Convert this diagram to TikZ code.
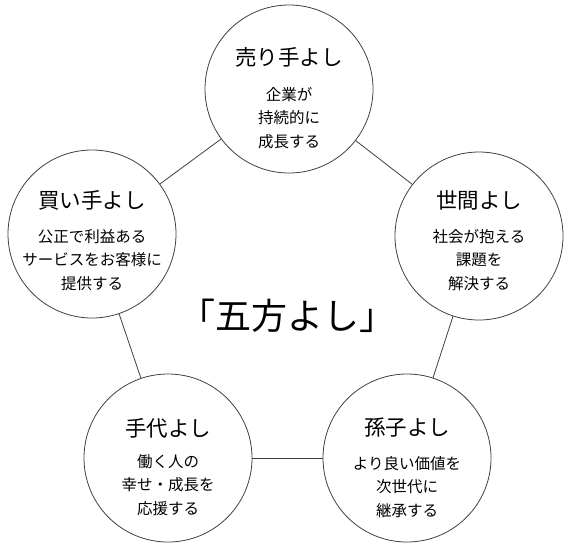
\documentclass[tikz,border=0pt]{standalone}
\usepackage{fontspec}
\setmainfont{Noto Sans CJK JP}

\begin{document}
\begin{tikzpicture}[x=1pt, y=-1pt, thin,
    party/.style = {circle, draw=black!75, line width=0.8pt, minimum size=168pt, inner sep=0pt},
    heading/.style = {font=\fontsize{21.5}{21.5}\selectfont},
    aim/.style = {align=center, font=\fontsize{15.5}{23.5}\selectfont}]
  \useasboundingbox (0, 0) rectangle (569, 552);

  % Circles.
  \node at (289, 89) [party, name=Seller] {};
  \node at (92, 234) [party, name=Buyer] {};
  \node at (479, 236) [party, name=Society] {};
  \node at (168, 458) [party, name=Staff] {};
  \node at (407, 458) [party, name=Future] {};

  % Links round the pentagon.
  \draw [draw=black!75, line width=0.8pt] (Seller) -- (Society);
  \draw [draw=black!75, line width=0.8pt] (Society) -- (Future);
  \draw [draw=black!75, line width=0.8pt] (Future) -- (Staff);
  \draw [draw=black!75, line width=0.8pt] (Staff) -- (Buyer);
  \draw [draw=black!75, line width=0.8pt] (Buyer) -- (Seller);

  % Texts.
  \node at (289, 57) [heading, name=SellerTitle] {売り手よし};
  \node at (289, 118) [aim, name=SellerAim] {企業が\\持続的に\\成長する};
  \node at (92, 200) [heading, name=BuyerTitle] {買い手よし};
  \node at (92, 260) [aim, name=BuyerAim] {公正で利益ある\\サービスをお客様に\\提供する};
  \node at (479, 200) [heading, name=SocietyTitle] {世間よし};
  \node at (479, 260) [aim, name=SocietyAim] {社会が抱える\\課題を\\解決する};
  \node at (168, 428) [heading, name=StaffTitle] {手代よし};
  \node at (168, 485) [aim, name=StaffAim] {働く人の\\幸せ・成長を\\応援する};
  \node at (407, 428) [heading, name=FutureTitle] {孫子よし};
  \node at (407, 487) [aim, name=FutureAim] {より良い価値を\\次世代に\\継承する};

  \node at (287, 316) [font=\fontsize{36}{36}\selectfont, name=Motto] {「五方よし」};
\end{tikzpicture}
\end{document}
